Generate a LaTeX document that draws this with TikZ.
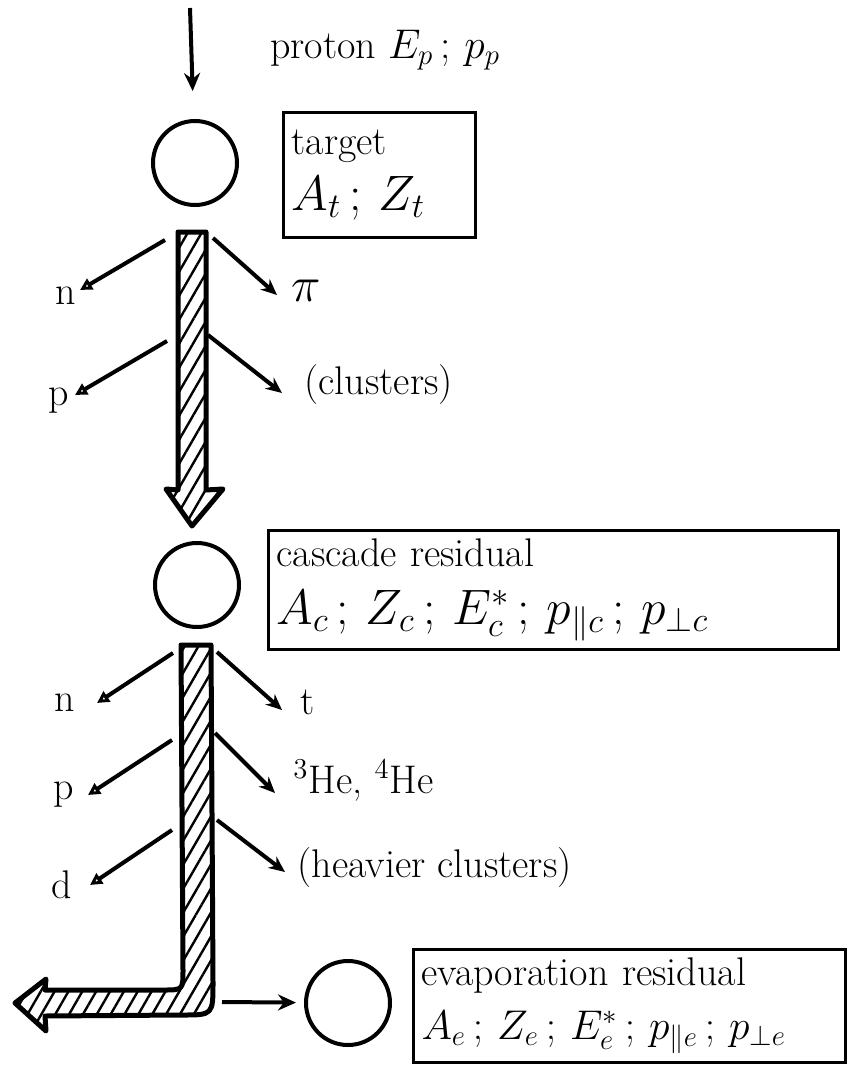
\documentclass[tikz,border=0pt]{standalone}
\usepackage{fontspec}
\usetikzlibrary{arrows.meta,positioning,calc,patterns.meta}
\newcommand{\symline}{\fontsize{24}{28}\selectfont}
\newcommand{\symlinesm}{\fontsize{22}{26}\selectfont}
\tikzset{
  >=Stealth,
  every node/.style={font=\fontsize{20}{24}\selectfont},
  nucleus/.style={draw,circle,line width=2pt,minimum size=42pt,inner sep=0pt},
  infobox/.style={draw,line width=1.5pt,align=left,inner sep=4pt},
  beam/.style={-{Stealth[length=9pt,width=8pt]},line width=2pt},
  emitl/.style={-{Triangle[open,length=6pt,width=6pt]},line width=2pt},
  emitr/.style={-{Stealth[length=8pt,width=7pt]},line width=2pt},
  flow/.style={line width=2.5pt,line join=round,pattern={Lines[angle=60,distance=6pt,line width=1.2pt]}},
  lbl/.style={inner sep=1pt},
}

\begin{document}
\begin{tikzpicture}[x=0.5pt,y=-0.5pt]
\useasboundingbox (0,0) rectangle (851,1086);

% nuclei
\node[nucleus] (target) at (195,163) {};
\node[nucleus] (cascade) at (197,585) {};
\node[nucleus] (evap) at (348,1003) {};

% info boxes
\node[infobox,right=21.5pt of target,yshift=-6pt,text width=88pt,minimum height=62.5pt] (tbox)
{target\\[4pt]\symline $A_t\,;\,Z_t$};
\node[infobox,right=13pt of cascade,yshift=-2.5pt,text width=277pt,minimum height=52.5pt] (cbox)
{cascade residual\\[5pt]\symline $A_c\,;\,Z_c\,;\,E^*_c\,;\,p_{\parallel c}\,;\,p_{\perp c}$};
\node[infobox,right=10pt of evap,yshift=-1.5pt,text width=208pt,minimum height=51pt] (ebox)
{evaporation residual\\[3pt]\symlinesm $A_e\,;\,Z_e\,;\,E^*_e\,;\,p_{\parallel e}\,;\,p_{\perp e}$};

% incoming proton
\coordinate (beamtop) at (190,8);
\node (proton) at (385,50) {proton $E_p\,;\,p_p$};
\draw[beam,shorten >=14pt] (beamtop) -- (target);

% hatched flow bands
\draw[flow] (178,232) -- (206,232) -- (206,490) -- (223,489) -- (192,526) -- (166,489) -- (178,490) -- cycle;
\draw[flow] (181,645) -- (211,645) -- (213,982) .. controls (213,1015) .. (182,1015) -- (45,1016)
  -- (46,1031) -- (15,1003) -- (46,979) -- (45,990) -- (163,990) .. controls (183,990) .. (183,970) -- cycle;

% to evaporation residual
\coordinate (bend) at (222,1002);
\draw[beam,shorten >=4pt] (bend) -- (evap);

% cascade emissions
\coordinate (n1s) at (165,240); \coordinate (n1e) at (80,290);
\coordinate (pi1s) at (213,238); \coordinate (pi1e) at (277,295);
\coordinate (p1s) at (167,341); \coordinate (p1e) at (75,395);
\coordinate (cl1s) at (208,335); \coordinate (cl1e) at (282,393);
\node[lbl,left=1pt of n1e,yshift=-3pt] (n1) {n};
\node[lbl,right=6pt of pi1e,yshift=2pt] (pi1) {\symline$\pi$};
\node[lbl,left=2pt of p1e,yshift=-3pt] (p1) {p};
\node[lbl,right=10pt of cl1e,yshift=4pt] (cl1) {(clusters)};
\draw[emitl] (n1s) -- (n1e);
\draw[emitr] (pi1s) -- (pi1e);
\draw[emitl] (p1s) -- (p1e);
\draw[emitr] (cl1s) -- (cl1e);

% evaporation emissions
\coordinate (n2s) at (173,653); \coordinate (n2e) at (97,703);
\coordinate (t2s) at (217,652); \coordinate (t2e) at (282,710);
\coordinate (p2s) at (172,740); \coordinate (p2e) at (88,795);
\coordinate (he2s) at (215,733); \coordinate (he2e) at (275,793);
\coordinate (d2s) at (172,830); \coordinate (d2e) at (90,885);
\coordinate (hc2s) at (217,820); \coordinate (hc2e) at (285,872);
\node[lbl,left=10pt of n2e] (n2) {n};
\node[lbl,right=8pt of t2e,yshift=4pt] (t2) {t};
\node[lbl,left=6pt of p2e] (p2) {p};
\node[lbl,right=8pt of he2e,yshift=6pt] (he2) {$^3$He, $^4$He};
\node[lbl,left=8pt of d2e] (d2) {d};
\node[lbl,right=5pt of hc2e,yshift=2pt] (hc2) {(heavier clusters)};
\draw[emitl] (n2s) -- (n2e);
\draw[emitr] (t2s) -- (t2e);
\draw[emitl] (p2s) -- (p2e);
\draw[emitr] (he2s) -- (he2e);
\draw[emitl] (d2s) -- (d2e);
\draw[emitr] (hc2s) -- (hc2e);

\end{tikzpicture}
\end{document}
